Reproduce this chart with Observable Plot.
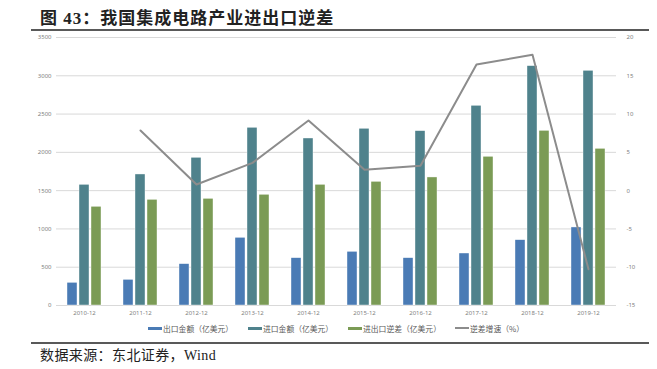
<!DOCTYPE html>
<html>
<head>
<meta charset="utf-8">
<script src="https://cdn.jsdelivr.net/npm/d3@7"></script>
<script src="https://cdn.jsdelivr.net/npm/@observablehq/plot@0.6"></script>
<style>
  html, body { margin: 0; padding: 0; background: #fff; }
  #wrap { position: relative; width: 657px; height: 369px; overflow: hidden; font-family: "Noto Sans CJK SC", "Noto Sans", sans-serif; }
  #title { position: absolute; left: 40px; top: 4px; font-family: "Liberation Serif", "Noto Sans CJK SC", serif; font-weight: bold; font-size: 17px; letter-spacing: 1px; color: #222; white-space: nowrap; }
  .rule { position: absolute; left: 31px; width: 618px; height: 2px; background: #595959; }
  #source { position: absolute; left: 40px; top: 344px; font-family: "Liberation Serif", "Noto Sans CJK SC", serif; font-size: 14px; letter-spacing: 0.4px; color: #222; white-space: nowrap; }
  .layer { position: absolute; left: 0; top: 0; }
  #legend { position: absolute; left: 0; top: 321px; width: 657px; height: 14px; font-size: 7.8px; color: #595959; }
  .li { position: absolute; top: 0; display: flex; align-items: center; height: 14px; white-space: nowrap; }
  .sw { display: inline-block; width: 14px; height: 3px; margin-right: 1px; }
  .ln { display: inline-block; width: 14px; height: 2px; margin-right: 1px; }
</style>
</head>
<body>
<div id="wrap">
  <div id="title">图 43：我国集成电路产业进出口逆差</div>
  <div class="rule" style="top:29px"></div>
  <div id="bars" class="layer"></div>
  <div id="line" class="layer"></div>
  <div id="legend"></div>
  <div class="rule" style="top:342px"></div>
  <div id="source">数据来源：东北证券，Wind</div>
</div>
<script>
const years = ["2010-12","2011-12","2012-12","2013-12","2014-12","2015-12","2016-12","2017-12","2018-12","2019-12"];
const seriesNames = ["出口金额（亿美元）","进口金额（亿美元）","进出口逆差（亿美元）"];
const lineName = "逆差增速（%）";
const exportVals = [296, 335, 540, 884, 618, 701, 618, 679, 853, 1019];
const importVals = [1576, 1711, 1929, 2321, 2181, 2308, 2277, 2608, 3126, 3065];
const deficitVals = [1289, 1380, 1393, 1446, 1576, 1615, 1672, 1942, 2281, 2046];
const growthVals = [null, 7.85, 0.8, 3.63, 9.16, 2.72, 3.24, 16.47, 17.74, -10.26];
const leftTicks = [0, 500, 1000, 1500, 2000, 2500, 3000, 3500];
const rightTicks = [-15, -10, -5, 0, 5, 10, 15, 20];
const colors = ["#4a7bb5", "#4f828c", "#7b9b55"];
const lineColor = "#8c8c8c";

const barData = [];
years.forEach((yr, i) => {
  [exportVals, importVals, deficitVals].forEach((arr, j) => {
    barData.push({year: yr, series: seriesNames[j], value: arr[i]});
  });
});
const lineData = years.map((yr, i) => ({year: yr, value: growthVals[i]}));

const W = 657, H = 322;
const M = {marginLeft: 53, marginRight: 38, marginTop: 37, marginBottom: 17};

const barsPlot = Plot.plot({
  width: W, height: H, ...M,
  style: {fontFamily: "'Noto Sans', sans-serif", fontSize: "6px", color: "#7f7f7f", background: "transparent"},
  fx: {domain: years, padding: 0, label: null},
  x: {domain: seriesNames, axis: null, paddingInner: 0.2, paddingOuter: 0.85},
  y: {domain: [0, 3500], axis: null},
  color: {domain: seriesNames, range: colors},
  marks: [
    Plot.gridY(leftTicks, {stroke: "#d9d9d9", strokeOpacity: 1, strokeWidth: 1}),
    Plot.barY(barData, {fx: "year", x: "series", y: "value", fill: "series", stroke: "#ffffff", strokeWidth: 0.4}),
    Plot.axisY(leftTicks, {anchor: "left", tickSize: 0, tickPadding: 5, label: null, fill: "#7f7f7f", tickFormat: d => String(d)}),
    Plot.axisFx({anchor: "bottom", tickSize: 0, tickPadding: 5, label: null, fill: "#7f7f7f"})
  ]
});
document.getElementById("bars").appendChild(barsPlot);

const linePlot = Plot.plot({
  width: W, height: H, ...M,
  style: {fontFamily: "'Noto Sans', sans-serif", fontSize: "6px", color: "#7f7f7f", background: "transparent"},
  x: {type: "point", domain: years, padding: 0.5, axis: null},
  y: {domain: [-15, 20], axis: null},
  marks: [
    Plot.line(lineData, {x: "year", y: "value", stroke: lineColor, strokeWidth: 2}),
    Plot.axisY(rightTicks, {anchor: "right", tickSize: 0, tickPadding: 7, label: null, fill: "#7f7f7f", tickFormat: d => String(d)})
  ]
});
document.getElementById("line").appendChild(linePlot);

const legend = document.getElementById("legend");
const items = [
  {label: seriesNames[0], color: colors[0], x: 148, kind: "sw"},
  {label: seriesNames[1], color: colors[1], x: 248, kind: "sw"},
  {label: seriesNames[2], color: colors[2], x: 348, kind: "sw"},
  {label: lineName, color: lineColor, x: 455, kind: "ln"}
];
items.forEach(it => {
  const d = document.createElement("div");
  d.className = "li";
  d.style.left = it.x + "px";
  const s = document.createElement("span");
  s.className = it.kind;
  s.style.background = it.color;
  d.appendChild(s);
  d.appendChild(document.createTextNode(it.label));
  legend.appendChild(d);
});
</script>
</body>
</html>
